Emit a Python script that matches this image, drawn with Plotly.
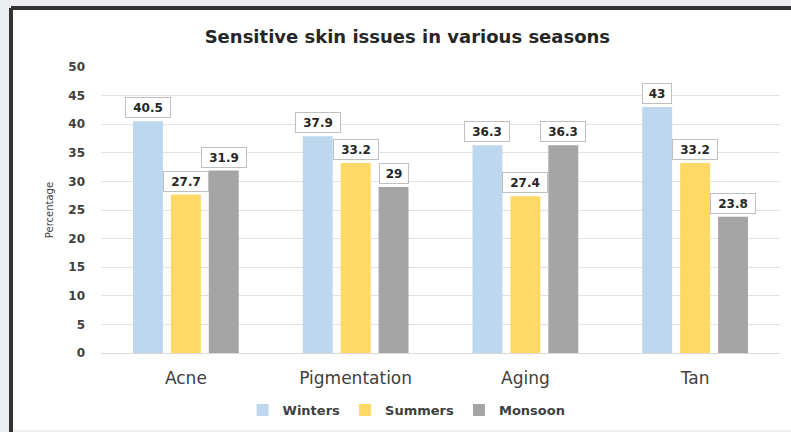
import plotly.graph_objects as go

categories = ["Acne", "Pigmentation", "Aging", "Tan"]
series_names = ["Winters", "Summers", "Monsoon"]
winters = [40.5, 37.9, 36.3, 43]
summers = [27.7, 33.2, 27.4, 33.2]
monsoon = [31.9, 29, 36.3, 23.8]
colors = ["#bdd7ee", "#ffd966", "#a5a5a5"]
y_ticks = [0, 5, 10, 15, 20, 25, 30, 35, 40, 45, 50]

FONT = "DejaVu Sans"
W, H = 791, 432
ML, MR, MT, MB = 101, 11, 67, 79

fig = go.Figure()
all_series = [winters, summers, monsoon]
for name, vals, col in zip(series_names, all_series, colors):
    fig.add_trace(go.Bar(name=f"<b>{name}</b>", x=categories, y=vals,
                         marker=dict(color=col, line=dict(width=0))))

annotations = []
for i, vals in enumerate(all_series):
    for cat, v in zip(categories, vals):
        label = f"{v:g}"
        annotations.append(dict(
            x=cat, y=v, xref="x", yref="y", text=f"<b>{label}</b>", showarrow=False,
            xshift=(i - 1) * 38, yshift=3, yanchor="bottom",
            width=len(label) * 8 + 8, height=15,
            bgcolor="white", bordercolor="#bfbfbf", borderwidth=1, borderpad=2,
            font=dict(size=12, color="#262626", family=FONT)))

pw, ph = W - ML - MR, H - MT - MB
def px(x):
    return (x - ML) / pw
def py(y):
    return (H - MB - y) / ph

shapes = [
    dict(type="rect", xref="paper", yref="paper", layer="below",
         x0=px(11), x1=px(800), y0=py(430), y1=py(8),
         fillcolor="white", line=dict(width=0)),
    dict(type="line", xref="paper", yref="paper", layer="below",
         x0=px(11), x1=px(800), y0=py(8), y1=py(8), line=dict(color="#333333", width=4)),
    dict(type="line", xref="paper", yref="paper", layer="below",
         x0=px(11), x1=px(11), y0=py(8), y1=py(440), line=dict(color="#333333", width=4)),
]

fig.update_layout(
    width=W, height=H,
    margin=dict(l=ML, r=MR, t=MT, b=MB, autoexpand=False),
    paper_bgcolor="#eceef1", plot_bgcolor="rgba(0,0,0,0)",
    barmode="group", bargap=0.33, bargroupgap=0.21,
    title=dict(text="<b>Sensitive skin issues in various seasons</b>", x=0.515, xanchor="center",
               y=1 - 37 / H, yanchor="middle", font=dict(size=18, color="#262626", family=FONT)),
    font=dict(family=FONT, color="#404040"),
    xaxis=dict(showgrid=False, showline=False, ticks="", automargin=False,
               tickfont=dict(size=17, color="#404040", family=FONT), ticklabelstandoff=13),
    yaxis=dict(range=[0, 50], tickvals=y_ticks, ticktext=[f"<b>{t}</b>" for t in y_ticks],
               automargin=False, showgrid=True, gridcolor="#e2e2e2", gridwidth=1,
               zeroline=True, zerolinecolor="#d9d9d9", zerolinewidth=1,
               tickfont=dict(size=12, color="#404040", family=FONT), ticklabelstandoff=15,
               title=dict(text="Percentage", font=dict(size=10, color="#404040", family=FONT), standoff=12)),
    legend=dict(orientation="h", x=0.45, xanchor="center", y=(H - MB - 410) / ph, yanchor="middle",
                font=dict(size=13, color="#404040", family=FONT), itemwidth=30, traceorder="normal",
                bgcolor="rgba(0,0,0,0)"),
    annotations=annotations, shapes=shapes,
)

fig.write_html("out.html")
